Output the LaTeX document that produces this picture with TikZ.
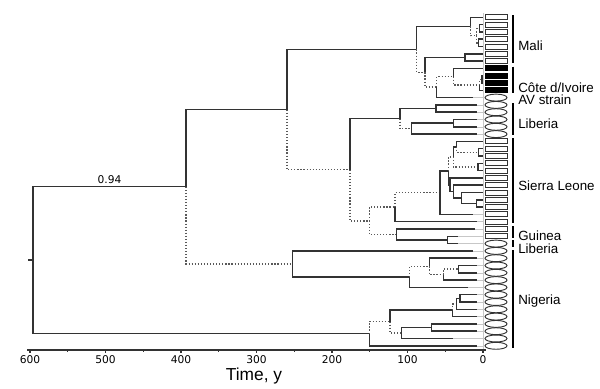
\documentclass[tikz,border=0pt]{standalone}
\usepackage{fontspec}
\setmainfont{Liberation Sans}
\newfontfamily\dejavu{DejaVu Sans}
\usetikzlibrary{positioning,calc,shapes.geometric}

\begin{document}
\begin{tikzpicture}[x=0.75pt,y=-0.75pt,
    br/.style={draw=black!80,line width=1.1pt},
    dt/.style={draw=black!65,line width=1.1pt,dash pattern=on 0.9pt off 1.4pt},
    ext/.style={draw=black!22,line width=0.4pt},
    wbox/.style={draw=black!80,line width=0.7pt,fill=white,rectangle,minimum width=16.5pt,minimum height=3.8pt,inner sep=0pt},
    kbox/.style={wbox,fill=black,draw=black},
    oval/.style={draw=black!80,line width=0.7pt,ellipse,minimum width=16.5pt,minimum height=5.2pt,inner sep=0pt},
    grp/.style={anchor=west,font=\fontsize{10}{12}\selectfont,inner sep=0pt},
    bar/.style={draw=black,line width=1.5pt},
    tick/.style={font=\dejavu\fontsize{8}{9}\selectfont,inner sep=0pt}]
\useasboundingbox (0,0) rectangle (600,389);

% tips and sample symbols
\foreach \i/\tx/\k in {1/483/wbox,2/483/wbox,3/483/wbox,4/483/wbox,5/483/wbox,6/483/wbox,7/483/wbox,
    8/483/kbox,9/483/kbox,10/483/kbox,11/483/kbox,12/473/oval,
    13/477/oval,14/477/oval,15/477/oval,16/477/oval,17/477/oval,
    18/483/wbox,19/483/wbox,20/483/wbox,21/483/wbox,22/483/wbox,23/483/wbox,24/483/wbox,
    25/483/wbox,26/483/wbox,27/483/wbox,28/473/wbox,29/477/wbox,
    30/475/wbox,31/458/wbox,32/458/oval,
    33/473/oval,34/477/oval,35/477/oval,36/477/oval,37/477/oval,38/468/oval,39/477/oval,
    40/477/oval,41/477/oval,42/477/oval,43/477/oval,44/477/oval,45/453/oval,46/477/oval}{
  \coordinate (l\i) at (\tx,{17.3+(\i-1)*7.3});
  \coordinate (e\i) at (484,{17.3+(\i-1)*7.3});
  \draw[ext] (l\i) -- (e\i);
  \node[\k] (s\i) at (496,{17.3+(\i-1)*7.3}) {};
}
\draw[ext] (483,13) -- (483,349);

% internal nodes
\coordinate (stem) at (28,260.2);
\coordinate (root) at (33,260.2);
\coordinate (n400) at (186,186.7);
\coordinate (n260) at (287,109.5);
\coordinate (n88) at (416.7,49.4);
\coordinate (mali1) at (470.7,26.4);
\coordinate (mali2) at (476.7,35.6);
\coordinate (mali3) at (479.5,28.3);
\coordinate (mali4) at (478.5,42.9);
\coordinate (n80) at (425,72.3);
\coordinate (m67) at (465,57.5);
\coordinate (n75) at (436.7,87.1);
\coordinate (civ) at (453.3,76.6);
\coordinate (civ2) at (479.5,84.8);
\coordinate (civ3) at (482,79.4);
\coordinate (n175) at (350,169.7);
\coordinate (lib) at (400,118.6);
\coordinate (lib1) at (436,108.6);
\coordinate (lib2) at (411.7,128.6);
\coordinate (lib3) at (453.3,123.2);
\coordinate (n150) at (369.3,220.8);
\coordinate (n140) at (395,207.2);
\coordinate (sl) at (440,192.6);
\coordinate (sl1) at (448.5,170.8);
\coordinate (slA) at (453.3,156.9);
\coordinate (sA1) at (456.7,146.9);
\coordinate (sA1b) at (478.5,152.4);
\coordinate (sA2) at (478,167);
\coordinate (slB) at (450,184.8);
\coordinate (slC) at (453.3,191.6);
\coordinate (slD) at (461.7,198);
\coordinate (slE) at (476.7,203.5);
\coordinate (gl) at (396.7,234.5);
\coordinate (gl2) at (447.7,240);
\coordinate (ng1) at (292.7,263.9);
\coordinate (ng3) at (409.3,276.9);
\coordinate (ng4) at (429.3,266.4);
\coordinate (ng5) at (443.3,274.6);
\coordinate (ng6) at (458.3,269.2);
\coordinate (ng2) at (369.3,333.7);
\coordinate (ng7) at (390,321.6);
\coordinate (ng8) at (452.7,310.2);
\coordinate (ng9) at (401.7,333);
\coordinate (ng10) at (456.7,303.8);
\coordinate (ng11) at (460,298.4);
\coordinate (ng12) at (431.7,327.6);

% branches
\draw[br] (stem) -- (root);
\draw[br] (root) |- node[tick,above=2pt,pos=0.75] {0.94} (n400);
\draw[br] (root) |- (ng2);
\draw[br] (n400) |- (n260);
\draw[dt] (n400) |- (ng1);
\draw[br] (n260) |- (n88);
\draw[dt] (n260) |- (n175);
\draw[br] (n88) |- (mali1);
\draw[dt] (n88) |- (n80);
\draw[br] (mali1) |- (l1);
\draw[dt] (mali1) |- (mali2);
\draw[dt] (mali2) |- (mali3);
\draw[dt] (mali2) |- (mali4);
\draw[br] (mali3) |- (l2);
\draw[br] (mali3) |- (l3);
\draw[br] (mali4) |- (l4);
\draw[br] (mali4) |- (l5);
\draw[br] (n80) |- (m67);
\draw[dt] (n80) |- (n75);
\draw[br] (m67) |- (l6);
\draw[br] (m67) |- (l7);
\draw[dt] (n75) |- (civ);
\draw[br] (n75) |- (l12);
\draw[br] (civ) |- (l8);
\draw[dt] (civ) |- (civ2);
\draw[dt] (civ2) |- (civ3);
\draw[br] (civ2) |- (l11);
\draw[br] (civ3) |- (l9);
\draw[br] (civ3) |- (l10);
\draw[br] (n175) |- (lib);
\draw[dt] (n175) |- (n150);
\draw[br] (lib) |- (lib1);
\draw[dt] (lib) |- (lib2);
\draw[br] (lib1) |- (l13);
\draw[br] (lib1) |- (l14);
\draw[br] (lib2) |- (lib3);
\draw[br] (lib2) |- (l17);
\draw[br] (lib3) |- (l15);
\draw[br] (lib3) |- (l16);
\draw[dt] (n150) |- (n140);
\draw[dt] (n150) |- (gl);
\draw[dt] (n140) |- (sl);
\draw[br] (n140) |- (l29);
\draw[br] (sl) |- (sl1);
\draw[br] (sl) |- (l28);
\draw[dt] (sl1) |- (slA);
\draw[br] (sl1) |- (slB);
\draw[br] (slA) |- (sA1);
\draw[dt] (slA) |- (sA2);
\draw[br] (sA1) |- (l18);
\draw[dt] (sA1) |- (sA1b);
\draw[br] (sA1b) |- (l19);
\draw[br] (sA1b) |- (l20);
\draw[br] (sA2) |- (l21);
\draw[br] (sA2) |- (l22);
\draw[br] (slB) |- (l23);
\draw[br] (slB) |- (slC);
\draw[br] (slC) |- (l24);
\draw[br] (slC) |- (slD);
\draw[br] (slD) |- (l25);
\draw[br] (slD) |- (slE);
\draw[br] (slE) |- (l26);
\draw[br] (slE) |- (l27);
\draw[br] (gl) |- (l30);
\draw[br] (gl) |- (gl2);
\draw[br] (gl2) |- (l31);
\draw[br] (gl2) |- (l32);
\draw[br] (ng1) |- (l33);
\draw[br] (ng1) |- (ng3);
\draw[dt] (ng3) |- (ng4);
\draw[br] (ng3) |- (l38);
\draw[br] (ng4) |- (l34);
\draw[dt] (ng4) |- (ng5);
\draw[dt] (ng5) |- (ng6);
\draw[br] (ng5) |- (l37);
\draw[br] (ng6) |- (l35);
\draw[br] (ng6) |- (l36);
\draw[dt] (ng2) |- (ng7);
\draw[br] (ng2) |- (l46);
\draw[br] (ng7) |- (ng8);
\draw[dt] (ng7) |- (ng9);
\draw[dt] (ng8) |- (ng10);
\draw[br] (ng8) |- (l42);
\draw[br] (ng10) |- (ng11);
\draw[br] (ng10) |- (l41);
\draw[br] (ng11) |- (l39);
\draw[br] (ng11) |- (l40);
\draw[br] (ng9) |- (ng12);
\draw[br] (ng9) |- (l45);
\draw[br] (ng12) |- (l43);
\draw[br] (ng12) |- (l44);

% groups
\foreach \a/\b/\ly/\txt in {15/62.5/46/{Mali},66.5/93/87.5/{Côte d/Ivoire},103/135/124/{Liberia},
    138/223/185.7/{Sierra Leone},226/238/236/{Guinea},240/247/248.3/{Liberia},250/348/301/{Nigeria}}{
  \draw[bar] (512.5,\a) -- (512.5,\b);
  \node[grp] at (518,\ly) {\txt};
}
\node[grp] (av) at (518,99.8) {AV strain};

% time axis
\draw[draw=black!80,line width=0.8pt] (27,350) -- (486,350);
\foreach \t in {0,100,...,600}{
  \draw[draw=black!80,line width=0.8pt] ({483-0.755*\t},350) -- ({483-0.755*\t},353);
  \node[tick] at ({483-0.755*\t},360) {\t};
}
\foreach \t in {50,150,...,550}
  \draw[draw=black!80,line width=0.6pt] ({483-0.755*\t},350) -- ({483-0.755*\t},352);
\node[font=\fontsize{13}{15}\selectfont,inner sep=0pt] (xlab) at (254,376) {Time, y};
\end{tikzpicture}
\end{document}
